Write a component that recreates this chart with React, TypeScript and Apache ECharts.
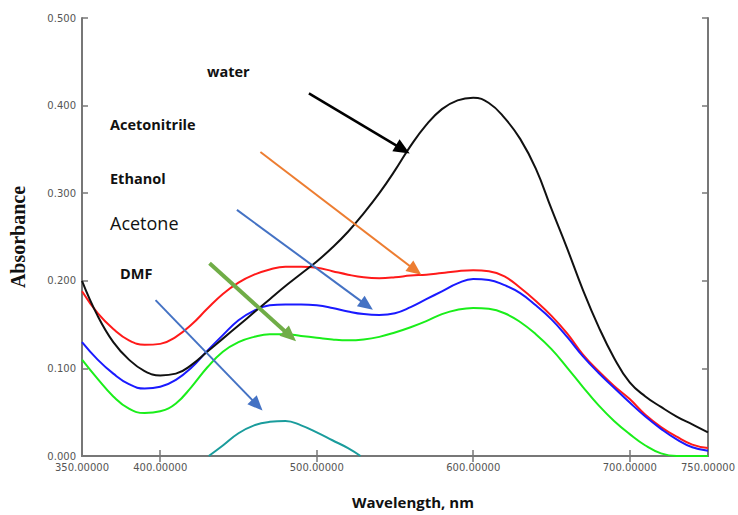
import React, { useEffect, useRef } from "react";
import * as echarts from "echarts";

const wavelengths = [350, 360, 370, 380, 390, 400, 410, 420, 430, 440, 450, 460, 470, 480, 490, 500, 510, 520, 530, 540, 550, 560, 570, 580, 590, 600, 610, 620, 630, 640, 650, 660, 670, 680, 690, 700, 710, 720, 730, 740, 750];

const water = [0.200, 0.160, 0.130, 0.110, 0.097, 0.092, 0.094, 0.104, 0.119, 0.134, 0.149, 0.164, 0.179, 0.194, 0.208, 0.222, 0.238, 0.256, 0.277, 0.300, 0.326, 0.354, 0.378, 0.396, 0.406, 0.409, 0.403, 0.386, 0.362, 0.328, 0.282, 0.237, 0.190, 0.148, 0.112, 0.084, 0.068, 0.056, 0.045, 0.036, 0.027];
const red = [0.188, 0.163, 0.145, 0.132, 0.127, 0.128, 0.136, 0.150, 0.168, 0.185, 0.198, 0.207, 0.213, 0.216, 0.216, 0.215, 0.211, 0.207, 0.204, 0.203, 0.204, 0.206, 0.207, 0.209, 0.211, 0.212, 0.211, 0.205, 0.192, 0.177, 0.160, 0.140, 0.116, 0.097, 0.080, 0.065, 0.047, 0.033, 0.022, 0.013, 0.009];
const blue = [0.130, 0.110, 0.094, 0.082, 0.077, 0.079, 0.087, 0.101, 0.120, 0.138, 0.155, 0.166, 0.172, 0.173, 0.173, 0.172, 0.169, 0.165, 0.162, 0.161, 0.163, 0.170, 0.179, 0.188, 0.197, 0.202, 0.201, 0.195, 0.186, 0.172, 0.156, 0.136, 0.114, 0.095, 0.078, 0.061, 0.045, 0.031, 0.019, 0.010, 0.006];
const green = [0.110, 0.088, 0.068, 0.054, 0.049, 0.051, 0.060, 0.079, 0.101, 0.119, 0.130, 0.136, 0.139, 0.139, 0.137, 0.135, 0.133, 0.132, 0.133, 0.136, 0.141, 0.147, 0.154, 0.162, 0.167, 0.169, 0.168, 0.163, 0.153, 0.139, 0.122, 0.101, 0.079, 0.058, 0.040, 0.025, 0.012, 0.003, 0.000, 0.000, 0.000];

const dmfWavelengths = [431, 440, 450, 460, 470, 480, 490, 500, 510, 520, 528];
const dmf = [0.000, 0.012, 0.026, 0.035, 0.039, 0.040, 0.035, 0.027, 0.018, 0.009, 0.000];

const xLabelValues = [350, 400, 500, 600, 700, 750];
const xTickValues = [400, 500, 600, 700];

// arrows: [startX, startY, endX, endY] in data units
const arrowWater = [495, 0.414, 555, 0.350];
const arrowAcetonitrile = [464, 0.347, 563, 0.212];
const arrowEthanol = [449, 0.281, 532, 0.172];
const arrowAcetone = [431.5, 0.220, 483, 0.137];
const arrowDMF = [397, 0.178, 462, 0.058];

const pairs = (xs: number[], ys: number[]) => xs.map((x, i) => [x, ys[i]]);

const AXIS = "#777";
const TICKFONT = { fontFamily: "DejaVu Sans", fontSize: 10, color: "#555" };

function arrow(a: number[], color: string, width: number, size: number[]) {
  return [
    { coord: [a[0], a[1]], lineStyle: { color, width, type: "solid" }, symbol: "none" },
    { coord: [a[2], a[3]], symbol: "triangle", symbolSize: size },
  ];
}

const label = (text: string, x: number, y: number, font: string) => ({
  type: "text",
  x,
  y,
  silent: true,
  style: { text, font, fill: "#111", verticalAlign: "middle", align: "left" },
});

export default function App() {
  const ref = useRef<HTMLDivElement>(null);
  useEffect(() => {
    document.body.style.margin = "0";
    const chart = echarts.init(ref.current!, undefined, { renderer: "svg" });
    const lineSeries = (name: string, data: number[][], color: string) => ({
      name,
      type: "line",
      data,
      smooth: 0.45,
      showSymbol: false,
      symbol: "none",
      lineStyle: { color, width: 2 },
      itemStyle: { color },
      silent: true,
      z: 2,
    });
    chart.setOption({
      animation: false,
      backgroundColor: "#fff",
      grid: { left: 82, right: 28, top: 18, bottom: 59, containLabel: false },
      xAxis: [
        {
          type: "value",
          position: "bottom",
          min: 350,
          max: 750,
          interval: 50,
          axisLine: { lineStyle: { color: AXIS, width: 2 } },
          axisTick: { inside: true, length: 6, lineStyle: { color: AXIS, width: 1.5 }, customValues: xTickValues },
          axisLabel: { ...TICKFONT, margin: 6, customValues: xLabelValues, formatter: (v: number) => v.toFixed(5) },
          splitLine: { show: false },
        },
        {
          type: "value",
          position: "top",
          min: 350,
          max: 750,
          interval: 50,
          axisLine: { lineStyle: { color: AXIS, width: 2 } },
          axisTick: { inside: true, length: 6, lineStyle: { color: AXIS, width: 1.5 }, customValues: xTickValues },
          axisLabel: { show: false },
          splitLine: { show: false },
        },
      ],
      yAxis: [
        {
          type: "value",
          position: "left",
          min: 0,
          max: 0.5,
          interval: 0.1,
          name: "Absorbance",
          nameLocation: "middle",
          nameGap: 54,
          nameTextStyle: { fontFamily: "Liberation Serif", fontWeight: "bold", fontSize: 20, color: "#111" },
          axisLine: { show: true, lineStyle: { color: AXIS, width: 2 } },
          axisTick: { show: true, inside: true, length: 6, lineStyle: { color: AXIS, width: 1.5 } },
          axisLabel: { ...TICKFONT, margin: 6, formatter: (v: number) => v.toFixed(3) },
          splitLine: { show: false },
        },
        {
          type: "value",
          position: "right",
          min: 0,
          max: 0.5,
          interval: 0.1,
          axisLine: { show: true, lineStyle: { color: AXIS, width: 2 } },
          axisTick: { show: true, inside: true, length: 6, lineStyle: { color: AXIS, width: 1.5 } },
          axisLabel: { show: false },
          splitLine: { show: false },
        },
      ],
      series: [
        lineSeries("Acetonitrile", pairs(wavelengths, red), "#ff1a1a"),
        lineSeries("Ethanol", pairs(wavelengths, blue), "#1a1aff"),
        lineSeries("Acetone", pairs(wavelengths, green), "#1aee1a"),
        lineSeries("DMF", pairs(dmfWavelengths, dmf), "#1a9c9c"),
        {
          ...lineSeries("water", pairs(wavelengths, water), "#111"),
          markLine: {
            silent: true,
            animation: false,
            label: { show: false },
            emphasis: { disabled: true },
            symbol: ["none", "triangle"],
            data: [
              arrow(arrowWater, "#000", 2.5, [14, 16]),
              arrow(arrowAcetonitrile, "#ed7d31", 2, [13, 15]),
              arrow(arrowEthanol, "#4472c4", 2, [13, 15]),
              arrow(arrowAcetone, "#70ad47", 4, [14, 16]),
              arrow(arrowDMF, "#4472c4", 2, [13, 15]),
            ],
          },
        },
      ],
      graphic: [
        label("water", 207, 71, "bold 14.5px 'Open Sans'"),
        label("Acetonitrile", 110, 124, "bold 14.5px 'Open Sans'"),
        label("Ethanol", 110, 178, "bold 14.5px 'Open Sans'"),
        label("Acetone", 110, 223, "18px 'Open Sans'"),
        label("DMF", 120, 273, "bold 14.5px 'Open Sans'"),
        label("Wavelength, nm", 352, 502, "bold 15px 'Open Sans'"),
      ],
    });
    return () => chart.dispose();
  }, []);
  return <div ref={ref} style={{ width: 738, height: 515 }} />;
}
